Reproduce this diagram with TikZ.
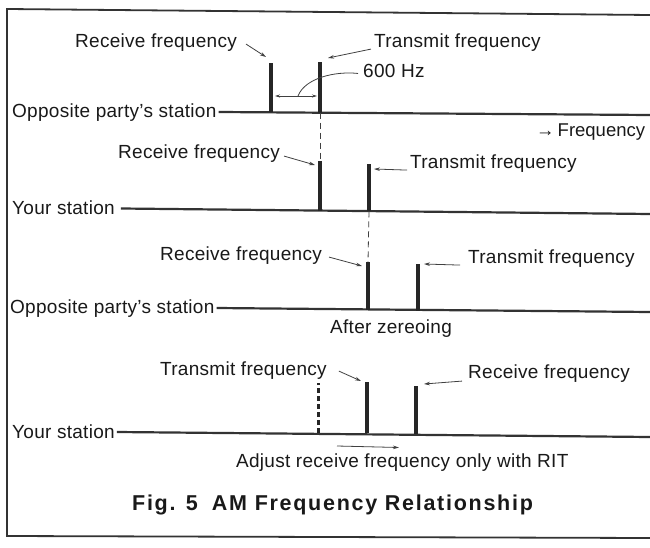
\documentclass[tikz,border=0pt]{standalone}
\usepackage{fontspec}
\setmainfont{Liberation Sans}
\usetikzlibrary{arrows.meta}
\begin{document}
\begin{tikzpicture}[x=1pt,y=-1pt,
  lbl/.style={inner sep=0pt,anchor=base west,text=black!90,
    font=\fontsize{19}{22}\selectfont\addfontfeature{LetterSpace=1.5}},
  ttl/.style={inner sep=0pt,anchor=base west,text=black!90,
    font=\bfseries\fontsize{21.5}{24}\selectfont\addfontfeature{LetterSpace=8}},
  peak/.style={draw=black!85,line width=4.3pt},
  axisline/.style={draw=black!80,line width=2.2pt},
  lead/.style={draw=black!75,line width=0.8pt,-{Stealth[length=6pt,width=3.6pt]}},
  guide/.style={draw=black!75,line width=0.8pt,dash pattern=on 6pt off 4pt},
  frame/.style={draw=black!80,line width=1.8pt}]
\useasboundingbox (0,0) rectangle (650,548);

% frame
\draw[frame] (650,15) -- (7,9) -- (7,536) -- (650,538);

% ---------- row 1 : opposite party's station ----------
\node[lbl] (st1) at (12,118) {Opposite party’s station};
\coordinate (b1r) at (650,115);
\draw[axisline] ([xshift=2pt]st1.east |- 0,112) -- (b1r);
\coordinate (R1t) at (271,63);  \coordinate (R1b) at (271,112.5);
\coordinate (T1t) at (320,62);  \coordinate (T1b) at (320,112.7);
\draw[peak] (R1b) -- (R1t);
\draw[peak] (T1b) -- (T1t);
\node[lbl] (rf1) at (75,48) {Receive frequency};
\node[lbl] (tf1) at (374,48) {Transmit frequency};
\coordinate (rf1tip) at (266,57);
\coordinate (tf1tip) at (328,58);
\draw[lead] ([xshift=9pt,yshift=-1pt]rf1.east) -- (rf1tip);
\draw[lead] ([xshift=-3pt,yshift=-6pt]tf1.west) -- (tf1tip);
\node[lbl] (hz) at (363,78) {600 Hz};
\coordinate (dl) at (275,96); \coordinate (dr) at (317,96);
\coordinate (dm) at (298,96);
\draw[draw=black!75,line width=0.8pt,{Stealth[length=5pt,width=3pt]}-{Stealth[length=5pt,width=3pt]}] (dl) -- (dr);
\draw[draw=black!75,line width=0.8pt] ([xshift=-5pt,yshift=-2pt]hz.west) .. controls (335,71) and (305,78) .. (dm);
\node[lbl,font=\fontsize{18.5}{22}\selectfont] (fq) at (536,137) {→\hspace{3pt}Frequency};

% ---------- row 2 : your station ----------
\node[lbl] (st2) at (12,214) {Your station};
\coordinate (b2r) at (650,214);
\draw[axisline] ([xshift=6pt]st2.east |- 0,208.5) -- (b2r);
\coordinate (R2t) at (320,161);  \coordinate (R2b) at (320,211);
\coordinate (T2t) at (369,164);  \coordinate (T2b) at (369,211.3);
\draw[peak] (R2b) -- (R2t);
\draw[peak] (T2b) -- (T2t);
\draw[guide] (T1b) -- (R2t);
\node[lbl] (rf2) at (118,159) {Receive frequency};
\node[lbl] (tf2) at (410,168) {Transmit frequency};
\coordinate (rf2tip) at (315,165);
\coordinate (tf2tip) at (374,169);
\draw[lead] ([xshift=4pt,yshift=-2pt]rf2.east) -- (rf2tip);
\draw[lead] ([xshift=-3pt,yshift=-7pt]tf2.west) -- (tf2tip);

% ---------- row 3 : opposite party's station after zeroing ----------
\node[lbl] (st3) at (10,313) {Opposite party’s station};
\coordinate (b3r) at (650,312);
\draw[axisline] ([xshift=2pt]st3.east |- 0,308) -- (b3r);
\coordinate (R3t) at (368,262);  \coordinate (R3b) at (368,310);
\coordinate (T3t) at (418,264);  \coordinate (T3b) at (418,310.5);
\draw[peak] (R3b) -- (R3t);
\draw[peak] (T3b) -- (T3t);
\draw[guide] (T2b) -- (R3t);
\node[lbl] (rf3) at (160,260) {Receive frequency};
\node[lbl] (tf3) at (468,263) {Transmit frequency};
\coordinate (rf3tip) at (362,266);
\coordinate (tf3tip) at (424,264);
\draw[lead] ([xshift=7pt,yshift=-2pt]rf3.east) -- (rf3tip);
\draw[lead] ([xshift=-8pt,yshift=-7pt]tf3.west) -- (tf3tip);
\node[lbl] (az) at (330,333) {After zereoing};

% ---------- row 4 : your station with RIT ----------
\node[lbl] (st4) at (12,438) {Your station};
\coordinate (b4r) at (650,437);
\draw[axisline] ([xshift=2pt]st4.east |- 0,432) -- (b4r);
\coordinate (D4t) at (318,383);  \coordinate (D4b) at (318,433);
\coordinate (T4t) at (367,382);  \coordinate (T4b) at (367,433);
\coordinate (R4t) at (416,386);  \coordinate (R4b) at (416,433.5);
\draw[draw=black!85,line width=3pt,dash pattern=on 5pt off 3pt] (D4b) -- (D4t);
\draw[peak] (T4b) -- (T4t);
\draw[peak] (R4b) -- (R4t);
\node[lbl] (tf4) at (160,375) {Transmit frequency};
\node[lbl] (rf4) at (468,378) {Receive frequency};
\coordinate (tf4tip) at (361,381);
\coordinate (rf4tip) at (424,384);
\draw[lead] ([xshift=12pt,yshift=-1pt]tf4.east) -- (tf4tip);
\draw[lead] ([xshift=-6pt,yshift=-8pt]rf4.west) -- (rf4tip);
\coordinate (adjS) at (337,446);
\coordinate (adjE) at (399,447.5);
\draw[lead] (adjS) -- (adjE);
\node[lbl] (adj) at (236,467) {Adjust receive frequency only with RIT};

% ---------- caption ----------
\node[ttl] (cap) at (132,510) {Fig. 5\hspace{0.3em} AM Frequency Relationship};
\end{tikzpicture}
\end{document}
